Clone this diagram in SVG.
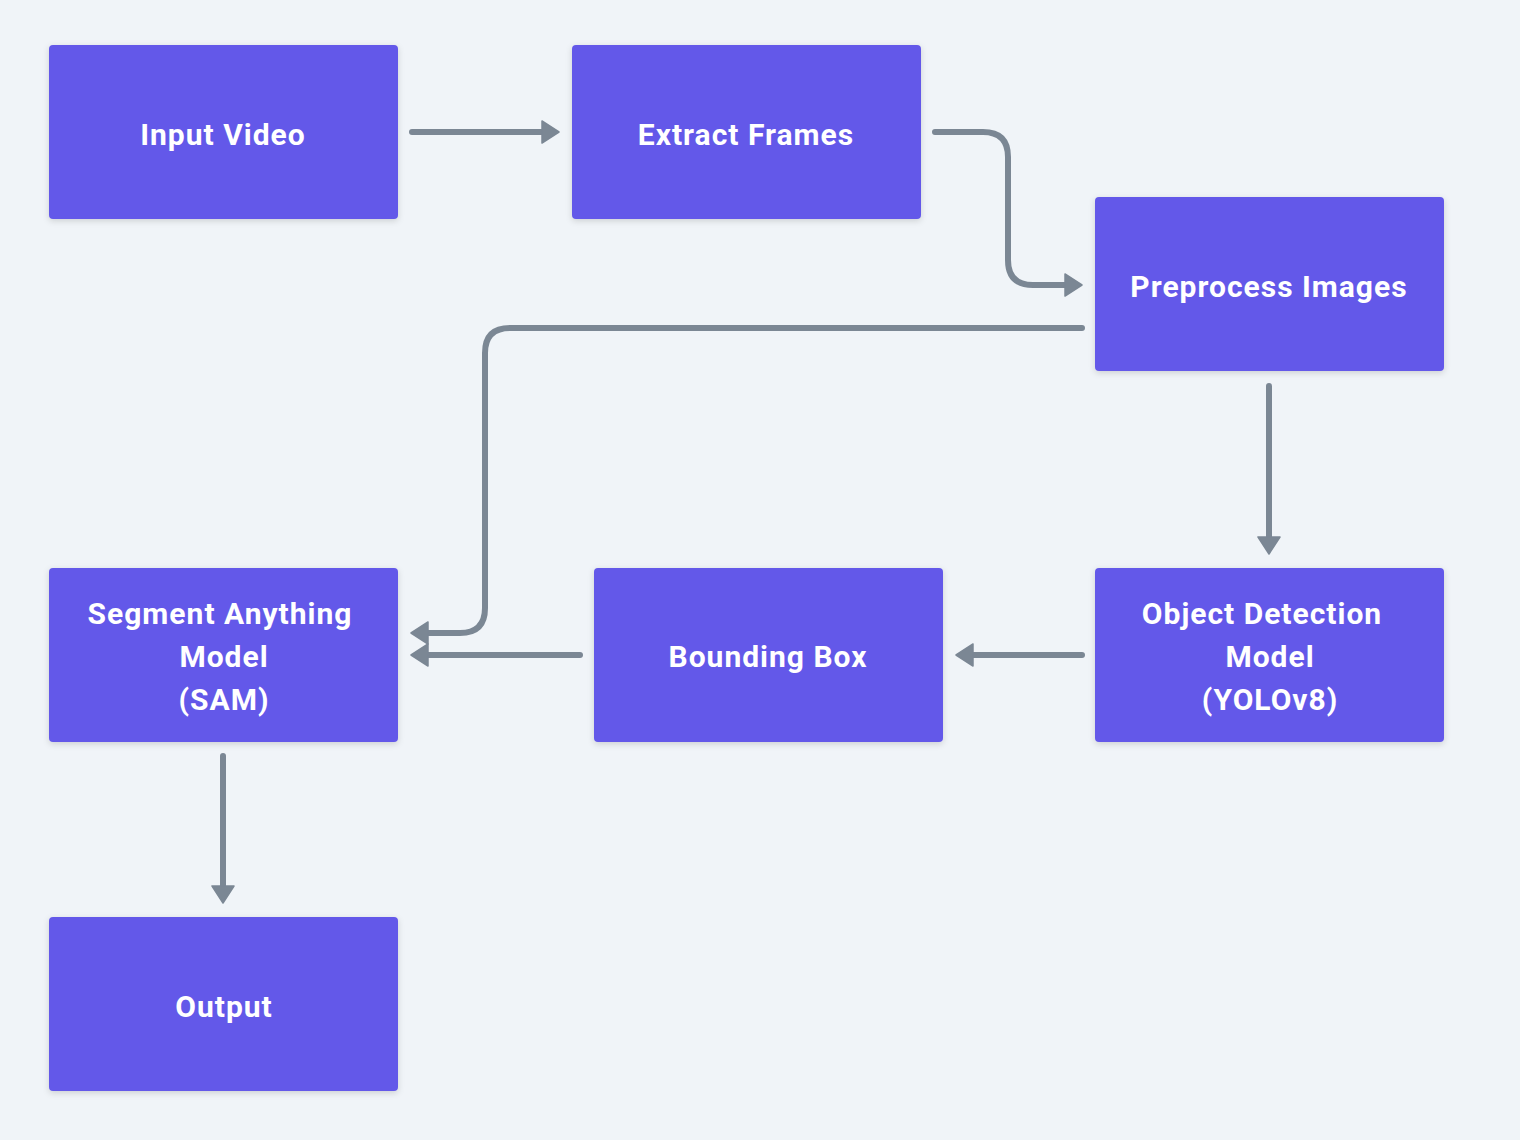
<svg xmlns="http://www.w3.org/2000/svg" width="1520" height="1140" viewBox="0 0 1520 1140">
<defs>
<style>
.box{fill:#6359E9;filter:url(#sh);}
.lbl{fill:#ffffff;font-family:"Roboto","Liberation Sans",sans-serif;font-weight:700;font-size:30px;letter-spacing:1px;text-anchor:middle;dominant-baseline:central;}
.edge{fill:none;stroke:#7B8794;stroke-width:6;stroke-linecap:round;stroke-linejoin:round;marker-end:url(#ah);}
</style>
<filter id="sh" x="-10%" y="-15%" width="120%" height="130%">
<feDropShadow dx="0" dy="2" stdDeviation="3" flood-color="#000" flood-opacity="0.15"/>
</filter>
<marker id="ah" markerUnits="userSpaceOnUse" markerWidth="20" markerHeight="26" viewBox="-1 -12 20 24" refX="7" refY="0" orient="auto">
<path d="M0,-11 L17,0 L0,11 Z" fill="#7B8794" stroke="#7B8794" stroke-width="1.5" stroke-linejoin="round"/>
</marker>
</defs>
<rect width="1520" height="1140" fill="#F0F4F8"/>
<g id="connectors">
<path class="edge" d="M412,132 L549,132"/>
<path class="edge" d="M935,132 L983,132 Q1008,132 1008,157 L1008,260 Q1008,285 1033,285 L1072,285"/>
<path class="edge" d="M1082,328 L510,328 Q485,328 485,353 L485,608 Q485,633 460,633 L421,633"/>
<path class="edge" d="M1269,386 L1269,544"/>
<path class="edge" d="M1082,655 L966,655"/>
<path class="edge" d="M580,655 L421,655"/>
<path class="edge" d="M223,756 L223,893"/>
</g>
<g id="input-video">
<rect class="box" x="49" y="45" width="349" height="174" rx="4"/>
<text class="lbl" x="223" y="134">Input Video</text>
</g>
<g id="extract-frames">
<rect class="box" x="572" y="45" width="349" height="174" rx="4"/>
<text class="lbl" x="746" y="134">Extract Frames</text>
</g>
<g id="preprocess-images">
<rect class="box" x="1095" y="197" width="349" height="174" rx="4"/>
<text class="lbl" x="1269" y="286">Preprocess Images</text>
</g>
<g id="sam">
<rect class="box" x="49" y="568" width="349" height="174" rx="4"/>
<text class="lbl" x="220" y="613">Segment Anything</text>
<text class="lbl" x="224" y="656">Model</text>
<text class="lbl" x="224" y="699">(SAM)</text>
</g>
<g id="bounding-box">
<rect class="box" x="594" y="568" width="349" height="174" rx="4"/>
<text class="lbl" x="768" y="656">Bounding Box</text>
</g>
<g id="object-detection">
<rect class="box" x="1095" y="568" width="349" height="174" rx="4"/>
<text class="lbl" x="1262" y="613">Object Detection</text>
<text class="lbl" x="1270" y="656">Model</text>
<text class="lbl" x="1270" y="699">(YOLOv8)</text>
</g>
<g id="output">
<rect class="box" x="49" y="917" width="349" height="174" rx="4"/>
<text class="lbl" x="224" y="1006">Output</text>
</g>
</svg>
